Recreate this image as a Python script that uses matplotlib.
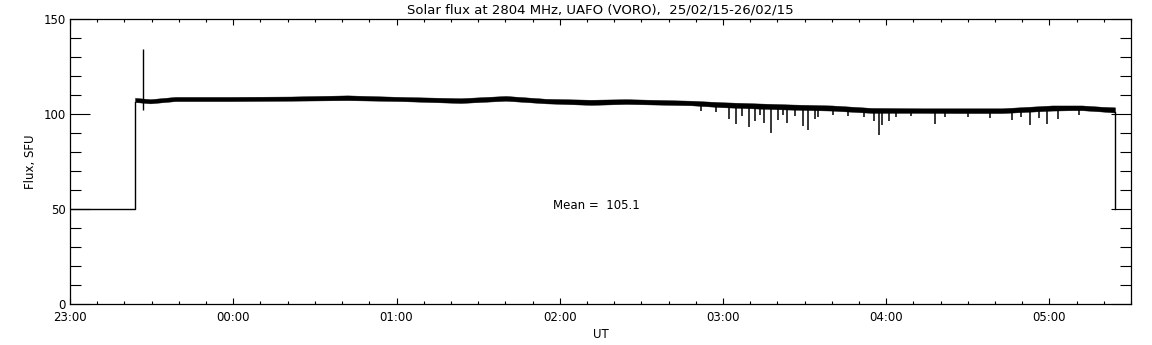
# Solar flux at 2804 MHz, UAFO (VORO) — recreated in matplotlib
import matplotlib
matplotlib.use('Agg')
import matplotlib.pyplot as plt
from matplotlib.ticker import FixedLocator, MultipleLocator
import numpy as np

# --- data (minutes since 23:00 UT, SFU) ---
# calibration level before and after the session
calib_level = 50.0
session_start = 23.75
session_end = 384.1

# envelope of the noisy flux band
band_time = [23.9, 29.5, 38.7, 58.9, 81.0, 102.0, 121.5, 143.6, 160.2, 175.0,
             191.5, 204.4, 228.3, 239.4, 254.0, 265.2, 280.0, 294.6, 313.0,
             326.0, 342.5, 361.0, 368.3, 372.0, 379.4, 384.1]
band_upper = [108.5, 107.8, 109.0, 109.0, 109.2, 109.8, 109.0, 108.3, 109.5, 108.0,
              107.5, 107.8, 107.0, 106.2, 105.5, 105.0, 104.5, 103.2, 103.0,
              103.0, 103.0, 104.5, 104.5, 104.5, 103.8, 103.5]
band_lower = [106.3, 105.6, 106.8, 106.8, 107.0, 107.3, 106.8, 105.8, 107.0, 105.6,
              104.8, 105.3, 104.6, 103.6, 102.8, 102.3, 101.8, 100.6, 100.6,
              100.5, 100.5, 101.8, 102.0, 102.0, 101.3, 100.8]

# short spike just after the start
spike_time = 27.0
spike_low, spike_high = 102.0, 134.0

# interference dips (time, lowest value)
dip_time = [232.0, 237.5, 242.3, 244.9, 247.0, 249.7, 251.9, 253.5, 255.2, 257.8,
            260.4, 262.0, 263.7, 266.5, 269.6, 271.4, 273.7, 275.1, 280.5, 286.0,
            292.0, 295.4, 297.2, 298.3, 300.9, 303.5, 309.0, 317.8, 321.5, 330.0,
            338.0, 346.2, 349.5, 352.8, 356.0, 359.1, 363.0, 371.0]
dip_value = [101.5, 101.0, 97.2, 95.0, 99.0, 93.0, 96.5, 99.5, 95.4, 90.2,
             96.8, 99.5, 95.4, 99.0, 93.7, 91.6, 97.2, 98.2, 99.5, 99.0,
             98.5, 96.5, 88.9, 94.2, 96.5, 98.5, 98.8, 95.0, 98.2, 98.5,
             98.0, 96.8, 98.5, 94.2, 98.0, 95.0, 97.5, 99.5]

mean_flux = 105.1

title = 'Solar flux at 2804 MHz, UAFO (VORO),  25/02/15-26/02/15'
x_tick_labels = ['23:00', '00:00', '01:00', '02:00', '03:00', '04:00', '05:00']
y_ticks = [0, 50, 100, 150]

# --- figure ---
fig = plt.figure(figsize=(11.52, 3.45), dpi=100)
ax = fig.add_axes([0.0608, 0.1188, 0.9210, 0.8261])

h = lambda m: np.asarray(m) / 60.0

bt = h(band_time)
ax.fill_between(bt, band_lower, band_upper, color='black', linewidth=0.3)

# calibration steps
ax.plot(h([0, session_start, session_start]), [calib_level, calib_level, band_lower[0]],
        color='black', lw=1.0)
ax.plot(h([session_end, session_end]), [band_lower[-1], calib_level], color='black', lw=1.0)

# spike
ax.vlines(h(spike_time), spike_low, spike_high, color='black', lw=1.0)

# dips
dt = h(dip_time)
dip_top = np.interp(dt, bt, band_lower) + 0.5
ax.vlines(dt, dip_value, dip_top, color='black', lw=1.1)

ax.text(h(177.5), 51.6, 'Mean =  %.1f' % mean_flux, fontsize=8.5, ha='left', va='center')

ax.set_xlim(0, 6.5)
ax.set_ylim(0, 150)
ax.xaxis.set_major_locator(FixedLocator(range(len(x_tick_labels))))
ax.set_xticklabels(x_tick_labels)
ax.xaxis.set_minor_locator(MultipleLocator(1 / 6))
ax.yaxis.set_major_locator(FixedLocator(y_ticks))
ax.yaxis.set_minor_locator(MultipleLocator(10))

ax.tick_params(which='both', direction='in', top=True, right=True, width=0.8,
               labelsize=8.5)
ax.tick_params(axis='x', which='major', length=4, pad=5)
ax.tick_params(axis='x', which='minor', length=2.5)
ax.tick_params(axis='y', which='major', length=14.5, pad=3)
ax.tick_params(axis='y', which='minor', length=8)
for lab in ax.get_yticklabels():
    lab.set_verticalalignment('center_baseline')
for s in ax.spines.values():
    s.set_linewidth(0.9)

ax.set_title(title, fontsize=9.5, pad=4)
ax.set_xlabel('UT', fontsize=8.5, labelpad=3)
ax.set_ylabel('Flux, SFU', fontsize=8.5, labelpad=5)

fig.savefig('out.png', dpi=100)
